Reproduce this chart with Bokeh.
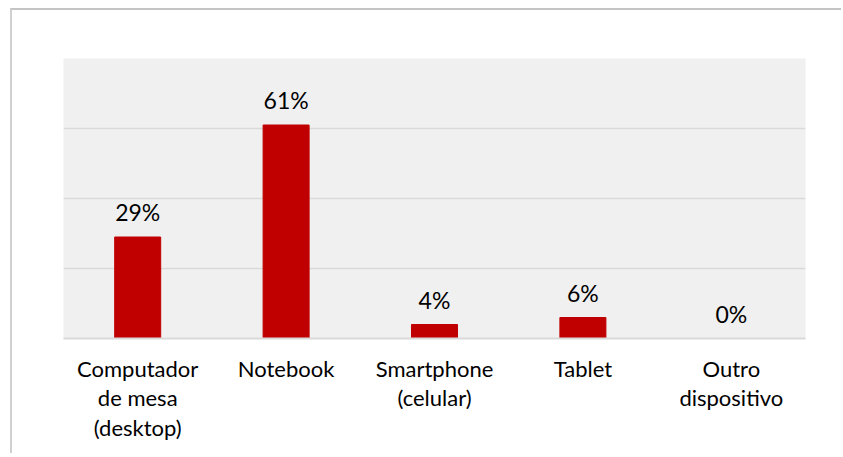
from bokeh.plotting import figure
from bokeh.models import ColumnDataSource, FixedTicker, Range1d
from bokeh.core.properties import value
from bokeh.embed import file_html
from bokeh.resources import INLINE

categories = ["Computador\nde mesa\n(desktop)", "Notebook", "Smartphone\n(celular)", "Tablet", "Outro\ndispositivo"]
values = [29, 61, 4, 6, 0]
value_labels = ["29%", "61%", "4%", "6%", "0%"]

FONT = "Lato"

src = ColumnDataSource(dict(cat=categories, val=values, lab=value_labels))

p = figure(x_range=categories, y_range=Range1d(0, 80), width=831, height=445,
           output_backend="svg", toolbar_location=None,
           min_border_left=51, min_border_right=38, min_border_top=48, min_border_bottom=117)
p.styles = {"border-top": "2px solid #c4c4c4", "border-left": "2px solid #d0d0d0",
            "margin-top": "8px", "margin-left": "10px"}

p.background_fill_color = "#f0f0f0"
p.border_fill_color = "white"
p.outline_line_color = None

p.vbar(x="cat", top="val", width=0.31, source=src, color="#c00000")
p.text(x="cat", y="val", text="lab", source=src, text_align="center", text_baseline="alphabetic",
       y_offset=-25, text_font=value(FONT), text_font_size="23px", text_color="#000000")

p.yaxis.visible = False
p.ygrid.ticker = FixedTicker(ticks=[20, 40, 60, 80])
p.ygrid.grid_line_color = "#d9d9d9"
p.ygrid.grid_line_width = 1.5
p.xgrid.grid_line_color = None

p.xaxis.axis_line_color = "#d9d9d9"
p.xaxis.axis_line_width = 2
p.xaxis.major_tick_line_color = None
p.xaxis.minor_tick_line_color = None
p.xaxis.major_label_text_font = FONT
p.xaxis.major_label_text_font_size = "22px"
p.xaxis.major_label_text_color = "#000000"
p.xaxis.major_label_text_line_height = 1.1
p.xaxis.major_label_standoff = 10

open("out.html", "w").write(file_html(p, INLINE))
